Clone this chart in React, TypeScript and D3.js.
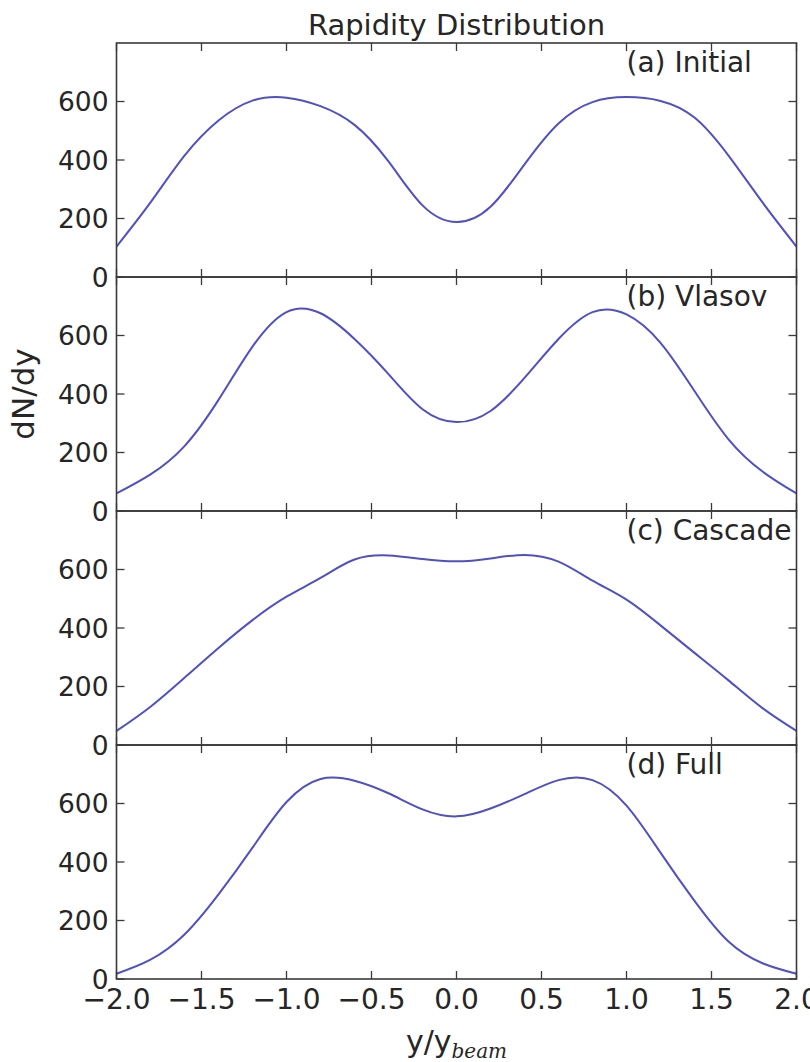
import React from "react";
import { scaleLinear, line, curveNatural } from "d3";

// rapidity grid (y / y_beam)
const rapidity = [
  -2.0, -1.8, -1.6, -1.4, -1.2, -1.0, -0.8, -0.6, -0.4, -0.2, 0.0,
  0.2, 0.4, 0.6, 0.8, 1.0, 1.2, 1.4, 1.6, 1.8, 2.0,
];

// dN/dy
const initialVals = [
  104, 255, 415, 535, 603, 613, 584, 520, 395, 245, 188,
  240, 385, 525, 598, 615, 602, 545, 415, 255, 104,
];
const vlasovVals = [
  60, 125, 222, 380, 562, 680, 676, 588, 468, 348, 304,
  342, 455, 588, 680, 672, 575, 410, 245, 135, 60,
];
const cascadeVals = [
  48, 131, 230, 332, 427, 507, 571, 634, 648, 636, 628,
  638, 650, 627, 562, 497, 409, 315, 221, 126, 48,
];
const fullVals = [
  18, 66, 152, 289, 449, 605, 684, 678, 635, 580, 556,
  583, 632, 680, 680, 593, 432, 267, 128, 54, 18,
];

const panelNames = ["(a) Initial", "(b) Vlasov", "(c) Cascade", "(d) Full"];
const panelSeries = [initialVals, vlasovVals, cascadeVals, fullVals];

const xTicks = [-2.0, -1.5, -1.0, -0.5, 0.0, 0.5, 1.0, 1.5, 2.0];
const yTicks = [0, 200, 400, 600];

const W = 810;
const H = 1062;
const left = 116.5;
const right = 796.5;
const top = 43;
const panelH = 234;
const font = "'DejaVu Sans', sans-serif";
const ink = "#262626";
const frame = "#3a3a3a";
const lineColor = "#5050c4";

const fmtX = (v: number) => (v < 0 ? "\u2212" : "") + Math.abs(v).toFixed(1);

const App = () => {
  const x = scaleLinear().domain([-2, 2]).range([left, right]);

  return (
    <svg
      width={W}
      height={H}
      style={{ position: "absolute", left: 0, top: 0, background: "#fff" }}
    >
      <text x={(left + right) / 2} y={35} textAnchor="middle" fontFamily={font} fontSize={29} fill={ink}>
        Rapidity Distribution
      </text>

      {panelSeries.map((vals, p) => {
        const y0 = top + p * panelH;
        const y = scaleLinear().domain([0, 800]).range([y0 + panelH, y0]);
        const path = line<number>()
          .x((d, i) => x(rapidity[i]))
          .y((d) => y(d))
          .curve(curveNatural)(vals);
        return (
          <g key={p}>
            <path d={path || ""} fill="none" stroke={lineColor} strokeWidth={2} />
            {/* x ticks, inward on top and bottom */}
            {xTicks.map((t) => (
              <g key={"x" + t} stroke={frame} strokeWidth={1.3}>
                <line x1={x(t)} x2={x(t)} y1={y0} y2={y0 + 8} />
                <line x1={x(t)} x2={x(t)} y1={y0 + panelH} y2={y0 + panelH - 8} />
              </g>
            ))}
            {/* y ticks, inward on left and right */}
            {yTicks.map((t) => (
              <g key={"y" + t}>
                <line x1={left} x2={left + 8} y1={y(t)} y2={y(t)} stroke={frame} strokeWidth={1.3} />
                <line x1={right} x2={right - 8} y1={y(t)} y2={y(t)} stroke={frame} strokeWidth={1.3} />
                <text
                  x={left - 8}
                  y={y(t)}
                  dy="0.36em"
                  textAnchor="end"
                  fontFamily={font}
                  fontSize={26.5}
                  fill={ink}
                >
                  {t}
                </text>
              </g>
            ))}
            <rect
              x={left}
              y={y0}
              width={right - left}
              height={panelH}
              fill="none"
              stroke={frame}
              strokeWidth={1.6}
            />
            <text x={x(1.0)} y={y(700)} fontFamily={font} fontSize={28} fill={ink}>
              {panelNames[p]}
            </text>
          </g>
        );
      })}

      {xTicks.map((t) => (
        <text
          key={"xl" + t}
          x={x(t)}
          y={1009}
          textAnchor="middle"
          fontFamily={font}
          fontSize={28}
          fill={ink}
        >
          {fmtX(t)}
        </text>
      ))}

      <text x={(left + right) / 2} y={1052} textAnchor="middle" fontFamily={font} fontSize={30} fill={ink}>
        y/y
        <tspan fontFamily="'DejaVu Serif', serif" fontStyle="italic" fontSize={20} dy={6}>
          beam
        </tspan>
      </text>

      <text
        transform={`translate(34, ${top + panelH * 1.5}) rotate(-90)`}
        textAnchor="middle"
        fontFamily={font}
        fontSize={31}
        fill={ink}
      >
        dN/dy
      </text>
    </svg>
  );
};

export default App;
